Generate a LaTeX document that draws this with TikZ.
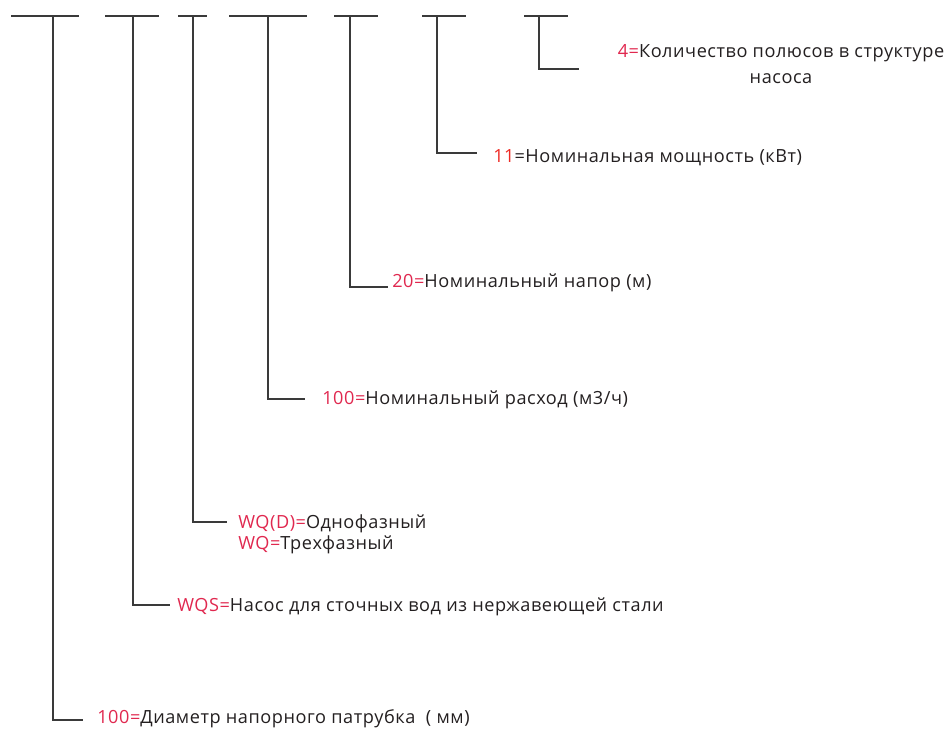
\documentclass[tikz,border=0pt]{standalone}
\usepackage{fontspec}
\setmainfont[LetterSpace=3]{Open Sans}
\definecolor{codered}{HTML}{E0284F}
\definecolor{pured}{HTML}{EE2A24}
\definecolor{txt}{HTML}{231F20}
\definecolor{ln}{HTML}{3A3A3A}
\tikzset{
  conn/.style={draw=ln, line width=0.8pt},
  lbl/.style={anchor=base west, inner sep=0pt, text=txt, font=\fontsize{13.6}{15.75}\selectfont},
}
\newcommand{\rd}[1]{\textcolor{codered}{#1}}
\begin{document}
\begin{tikzpicture}[x=0.75pt, y=-0.75pt]
\useasboundingbox (0,0) rectangle (948,733);
% top segments
\foreach \n/\a/\b/\m in {1/11/79/53, 2/105/159/133, 3/178/207/193, 4/229/307/268, 5/334/378/350, 6/422/466/437, 7/524/568/539}{
  \coordinate (a\n) at (\a,16);
  \coordinate (b\n) at (\b,16);
  \coordinate (m\n) at (\m,16);
  \draw[conn] (a\n) -- (b\n);
}
% stub ends
\coordinate (s1) at (83,720);
\coordinate (s2) at (170,605);
\coordinate (s3) at (227,522);
\coordinate (s4) at (305,399);
\coordinate (s5) at (388,287);
\coordinate (s6) at (477,153);
\coordinate (s7) at (579,69);
\foreach \n in {1,...,7}{ \draw[conn] (m\n) |- (s\n); }
% labels (multi-line nodes: base = last line's baseline)
\node[lbl, anchor=base, align=center, font=\fontsize{13.6}{19.5}\selectfont] (L7) at (781,83) {\rd{4=}Количество полюсов в структуре\\насоса};
\node[lbl] (L6) at (493,162) {\textcolor{pured}{11}=Номинальная мощность (кВт)};
\node[lbl] (L5) at (392,287) {\rd{20=}Номинальный напор (м)};
\node[lbl] (L4) at (322,404) {\rd{100=}Номинальный расход (м3/ч)};
\node[lbl, align=left] (L3) at (238,549) {\rd{WQ(D)=}Однофазный\\\rd{WQ=}Трехфазный};
\node[lbl] (L2) at (177,611) {\rd{WQS=}Насос для сточных вод из нержавеющей стали};
\node[lbl] (L1) at (97,723) {\rd{100=}Диаметр напорного патрубка~~( мм)};
\end{tikzpicture}
\end{document}
